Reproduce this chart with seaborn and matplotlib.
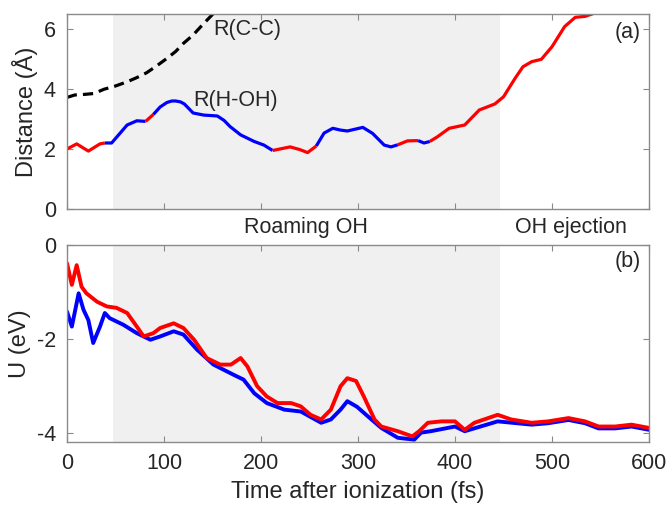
import matplotlib
matplotlib.use("Agg")
import matplotlib.pyplot as plt
import seaborn as sns
import pandas as pd

# ---- panel (a): interatomic distances ----
t_hoh = [0, 10, 22, 34, 39, 46, 54, 62, 72, 81, 89, 96, 103, 108, 112, 117,
         121, 130, 141, 155, 162, 168, 179, 193, 203, 212, 224, 230, 240, 248,
         257, 265, 274, 282, 289, 305, 315, 327, 334, 341, 351, 362, 368, 374,
         382, 394, 410, 425, 441, 450, 462, 470, 479, 489, 500, 513, 524, 534,
         543, 550]
r_hoh = [2.0, 2.17, 1.93, 2.17, 2.2, 2.2, 2.5, 2.8, 2.94, 2.92, 3.15, 3.4,
         3.55, 3.6, 3.6, 3.57, 3.5, 3.2, 3.13, 3.1, 2.95, 2.75, 2.47, 2.25,
         2.13, 1.95, 2.03, 2.07, 1.98, 1.88, 2.1, 2.53, 2.69, 2.63, 2.6, 2.72,
         2.52, 2.13, 2.07, 2.14, 2.27, 2.28, 2.2, 2.25, 2.41, 2.69, 2.8, 3.3,
         3.5, 3.74, 4.36, 4.74, 4.91, 4.99, 5.41, 6.08, 6.39, 6.42, 6.52, 6.65]
# state of the H-OH fragment between consecutive switch times (r = red, b = blue)
switch_times = [0, 39, 81, 89, 212, 257, 341, 362, 374, 550]
switch_states = ["r", "b", "r", "b", "r", "b", "r", "b", "r"]

t_cc = [0, 8, 18, 28, 38, 50, 62, 72, 82, 92, 103, 112, 120, 130, 138, 151, 158]
r_cc = [3.72, 3.8, 3.82, 3.85, 3.99, 4.1, 4.24, 4.38, 4.54, 4.76, 5.02, 5.25,
        5.52, 5.8, 6.08, 6.52, 6.75]

# ---- panel (b): potential energies ----
t_u_red = [0, 5, 10, 15, 20, 31, 41, 51, 62, 72, 79, 89, 96, 110, 120, 131,
           144, 158, 169, 179, 186, 196, 206, 217, 231, 241, 251, 262, 272,
           282, 289, 298, 306, 317, 324, 341, 356, 363, 372, 386, 400, 410,
           420, 444, 458, 479, 496, 517, 534, 548, 565, 582, 600]
u_red = [-0.39, -0.85, -0.43, -0.89, -1.03, -1.21, -1.31, -1.34, -1.45, -1.74,
         -1.95, -1.88, -1.77, -1.67, -1.77, -2.02, -2.41, -2.55, -2.55, -2.41,
         -2.59, -3.01, -3.23, -3.37, -3.37, -3.44, -3.62, -3.72, -3.51, -3.01,
         -2.84, -2.9, -3.23, -3.72, -3.87, -3.97, -4.08, -3.97, -3.79, -3.76,
         -3.76, -3.94, -3.79, -3.62, -3.72, -3.79, -3.76, -3.69, -3.76, -3.87,
         -3.87, -3.83, -3.9]

t_u_blue = [0, 5, 12, 17, 22, 27, 34, 39, 44, 58, 72, 86, 96, 110, 120, 134,
            151, 172, 182, 193, 206, 224, 241, 262, 272, 282, 289, 299, 310,
            324, 341, 358, 365, 375, 400, 410, 444, 479, 496, 517, 534, 548,
            565, 582, 600]
u_blue = [-1.42, -1.74, -1.03, -1.38, -1.6, -2.09, -1.74, -1.45, -1.56, -1.7,
          -1.88, -2.02, -1.95, -1.84, -1.91, -2.23, -2.55, -2.77, -2.87, -3.16,
          -3.37, -3.51, -3.55, -3.79, -3.72, -3.51, -3.33, -3.45, -3.65, -3.9,
          -4.11, -4.15, -4.0, -3.97, -3.87, -3.97, -3.76, -3.83, -3.8, -3.73,
          -3.8, -3.91, -3.91, -3.87, -3.94]

roaming_window = (47, 446)

sns.set_style("ticks")
plt.rcParams["font.family"] = ["Liberation Sans", "DejaVu Sans"]
text_col = "#262626"
spine_col = "#8a8a8a"
plt.rcParams.update({
    "axes.edgecolor": spine_col,
    "axes.linewidth": 1.0,
    "xtick.color": spine_col,
    "ytick.color": spine_col,
    "xtick.labelcolor": text_col,
    "ytick.labelcolor": text_col,
    "xtick.direction": "in",
    "ytick.direction": "in",
    "xtick.major.size": 4,
    "ytick.major.size": 4,
    "xtick.major.pad": 8,
    "ytick.major.pad": 8,
    "xtick.top": True,
    "ytick.right": True,
    "font.size": 15.5,
    "xtick.labelsize": 15.5,
    "ytick.labelsize": 15.5,
    "axes.labelsize": 17,
    "text.color": text_col,
    "axes.labelcolor": text_col,
})

RED = "#ff0000"
BLUE = "#0000ff"
ANN = 15.5

fig = plt.figure(figsize=(6.7, 5.07), dpi=100)
ax1 = fig.add_axes([0.1, 0.5878, 0.8687, 0.3846])
ax2 = fig.add_axes([0.1, 0.1282, 0.8687, 0.3886])

for ax in (ax1, ax2):
    ax.axvspan(*roaming_window, color="#f0f0f0", lw=0, zorder=0)

# R(H-OH), coloured piece by piece
hoh = pd.DataFrame({"t": t_hoh, "r": r_hoh})
for (a, b), s in zip(zip(switch_times[:-1], switch_times[1:]), switch_states):
    seg = hoh[(hoh.t >= a) & (hoh.t <= b)]
    sns.lineplot(data=seg, x="t", y="r", ax=ax1, color=RED if s == "r" else BLUE,
                 lw=2.3, sort=False, estimator=None, solid_capstyle="butt")

cc = pd.DataFrame({"t": t_cc, "r": r_cc})
sns.lineplot(data=cc, x="t", y="r", ax=ax1, color="black", lw=2.3,
             sort=False, estimator=None)
ax1.lines[-1].set_dashes((3.2, 1.9))

ax1.set_xlim(0, 600)
ax1.set_ylim(0, 6.5)
ax1.set_yticks([0, 2, 4, 6])
ax1.set_xticks([0, 100, 200, 300, 400, 500, 600])
ax1.set_xticklabels([])
ax1.set_xlabel("")
ax1.set_ylabel("Distance (Å)", labelpad=4)

ax1.text(150.5, 5.97, "R(C-C)", ha="left", va="center", fontsize=ANN)
ax1.text(130, 3.63, "R(H-OH)", ha="left", va="center", fontsize=ANN)
ax1.text(0.986, 0.905, "(a)", transform=ax1.transAxes, ha="right", va="center",
         fontsize=ANN)

u_r = pd.DataFrame({"t": t_u_red, "u": u_red})
u_b = pd.DataFrame({"t": t_u_blue, "u": u_blue})
sns.lineplot(data=u_b, x="t", y="u", ax=ax2, color=BLUE, lw=2.8,
             sort=False, estimator=None)
sns.lineplot(data=u_r, x="t", y="u", ax=ax2, color=RED, lw=2.8,
             sort=False, estimator=None)

ax2.set_xlim(0, 600)
ax2.set_ylim(-4.2, 0)
ax2.set_yticks([-4, -2, 0])
ax2.set_yticklabels(["-4", "-2", "0"])
ax2.set_xticks([0, 100, 200, 300, 400, 500, 600])
ax2.set_xlabel("Time after ionization (fs)", labelpad=5)
ax2.set_ylabel("U (eV)", labelpad=4)
ax2.text(0.986, 0.914, "(b)", transform=ax2.transAxes, ha="right", va="center",
         fontsize=ANN)

fig.text(306 / 670, 1 - 227 / 507, "Roaming OH", ha="center", va="center",
         fontsize=ANN)
fig.text(571 / 670, 1 - 227 / 507, "OH ejection", ha="center", va="center",
         fontsize=ANN)

fig.savefig("out.png", dpi=100)
